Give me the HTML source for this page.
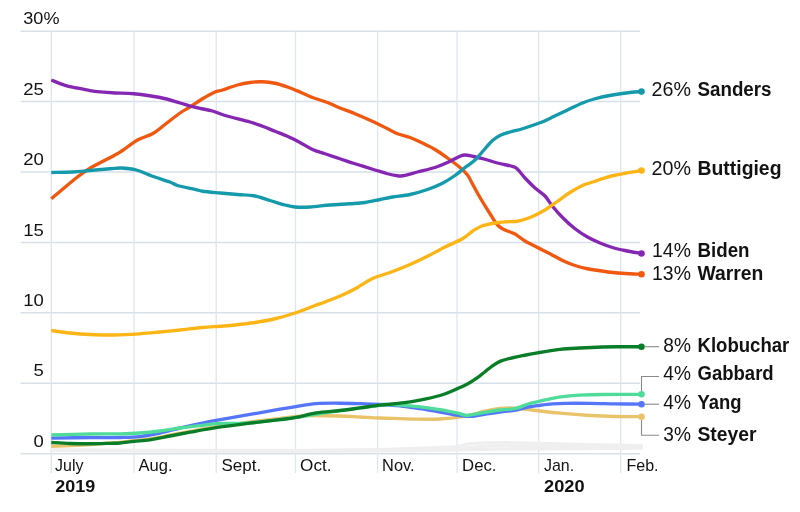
<!DOCTYPE html>
<html><head><meta charset="utf-8"><title>Poll averages</title>
<style>html,body{margin:0;padding:0;background:#fff}svg{display:block}</style></head>
<body>
<svg width="800" height="512" viewBox="0 0 800 512">
<rect width="800" height="512" fill="#fff"/>
<g stroke="#d8e1ea" stroke-width="1.45" fill="none">
<path d="M20.5,31.15H640"/>
<path d="M20.5,101.57H640"/>
<path d="M20.5,171.99H640"/>
<path d="M20.5,242.41H640"/>
<path d="M20.5,312.83H640"/>
<path d="M20.5,383.25H640"/>
<path d="M20.5,453.67H640"/>
</g>
<g stroke="#dee6ee" stroke-width="1.3" fill="none">
<path d="M51.30,31V473"/>
<path d="M134.00,31V473"/>
<path d="M216.20,31V473"/>
<path d="M295.50,31V473"/>
<path d="M377.60,31V473"/>
<path d="M457.00,31V473"/>
<path d="M538.70,31V473"/>
<path d="M620.70,31V473"/>
</g>
<g stroke="#efefef" stroke-width="3.3" fill="none" stroke-linecap="round" stroke-linejoin="round">
<path d="M51.30,450.50C92.75,450.58 241.88,450.95 300.00,451.00C358.12,451.05 371.67,451.05 400.00,450.80C428.33,450.55 450.00,449.80 470.00,449.50C490.00,449.20 501.67,449.15 520.00,449.00C538.33,448.85 559.75,448.73 580.00,448.60C600.25,448.47 631.25,448.27 641.50,448.20"/>
<path d="M51.30,450.30C66.08,450.37 98.55,450.62 140.00,450.70C181.45,450.78 260.00,450.87 300.00,450.80C340.00,450.73 353.83,450.70 380.00,450.30C406.17,449.90 441.83,448.90 457.00,448.40C472.17,447.90 464.83,447.73 471.00,447.30C477.17,446.87 485.83,445.97 494.00,445.80C502.17,445.63 505.67,446.10 520.00,446.30C534.33,446.50 559.75,446.85 580.00,447.00C600.25,447.15 631.25,447.17 641.50,447.20"/>
<path d="M51.30,449.80C59.42,449.87 75.22,450.08 100.00,450.20C124.78,450.32 166.67,450.47 200.00,450.50C233.33,450.53 270.00,450.55 300.00,450.40C330.00,450.25 356.67,450.08 380.00,449.60C403.33,449.12 427.17,448.00 440.00,447.50C452.83,447.00 451.83,447.25 457.00,446.60C462.17,445.95 464.83,444.27 471.00,443.60C477.17,442.93 485.83,442.70 494.00,442.60C502.17,442.50 509.00,442.77 520.00,443.00C531.00,443.23 546.67,443.67 560.00,444.00C573.33,444.33 586.42,444.73 600.00,445.00C613.58,445.27 634.58,445.50 641.50,445.60"/>
</g>
<path d="M51.30,446.30C54.42,446.18 63.55,445.88 70.00,445.60C76.45,445.32 84.17,444.97 90.00,444.60C95.83,444.23 100.00,443.77 105.00,443.40C110.00,443.03 115.17,442.87 120.00,442.40C124.83,441.93 129.00,441.17 134.00,440.60C139.00,440.03 144.00,439.90 150.00,439.00C156.00,438.10 163.33,436.47 170.00,435.20C176.67,433.93 182.33,432.83 190.00,431.40C197.67,429.97 206.00,428.17 216.00,426.60C226.00,425.03 239.33,423.35 250.00,422.00C260.67,420.65 272.33,419.43 280.00,418.50C287.67,417.57 290.67,416.90 296.00,416.40C301.33,415.90 304.67,415.57 312.00,415.50C319.33,415.43 332.00,415.75 340.00,416.00C348.00,416.25 353.33,416.67 360.00,417.00C366.67,417.33 373.33,417.73 380.00,418.00C386.67,418.27 393.33,418.40 400.00,418.60C406.67,418.80 413.33,419.13 420.00,419.20C426.67,419.27 434.00,419.27 440.00,419.00C446.00,418.73 451.00,418.27 456.00,417.60C461.00,416.93 465.00,416.10 470.00,415.00C475.00,413.90 481.00,412.08 486.00,411.00C491.00,409.92 496.00,409.03 500.00,408.50C504.00,407.97 506.67,407.80 510.00,407.80C513.33,407.80 515.00,407.97 520.00,408.50C525.00,409.03 533.33,410.22 540.00,411.00C546.67,411.78 551.67,412.45 560.00,413.20C568.33,413.95 580.83,414.95 590.00,415.50C599.17,416.05 606.42,416.30 615.00,416.50C623.58,416.70 637.08,416.67 641.50,416.70" stroke="#e8c36a" stroke-width="3.35" fill="none" stroke-linejoin="round"/>
<circle cx="641.50" cy="416.70" r="3.3" fill="#e8c36a"/>
<path d="M51.30,438.10C57.75,438.02 78.55,437.70 90.00,437.60C101.45,437.50 111.67,437.67 120.00,437.50C128.33,437.33 133.33,437.35 140.00,436.60C146.67,435.85 153.33,434.43 160.00,433.00C166.67,431.57 173.33,429.57 180.00,428.00C186.67,426.43 194.00,424.87 200.00,423.60C206.00,422.33 207.67,421.93 216.00,420.40C224.33,418.87 239.33,416.27 250.00,414.40C260.67,412.53 272.33,410.50 280.00,409.20C287.67,407.90 290.00,407.53 296.00,406.60C302.00,405.67 308.67,404.17 316.00,403.60C323.33,403.03 332.67,403.20 340.00,403.20C347.33,403.20 353.33,403.40 360.00,403.60C366.67,403.80 373.33,404.03 380.00,404.40C386.67,404.77 393.33,405.10 400.00,405.80C406.67,406.50 413.33,407.57 420.00,408.60C426.67,409.63 434.00,410.93 440.00,412.00C446.00,413.07 451.00,414.27 456.00,415.00C461.00,415.73 466.00,416.40 470.00,416.40C474.00,416.40 475.00,415.73 480.00,415.00C485.00,414.27 494.00,412.83 500.00,412.00C506.00,411.17 511.33,410.83 516.00,410.00C520.67,409.17 524.00,407.78 528.00,407.00C532.00,406.22 535.92,405.82 540.00,405.30C544.08,404.78 548.33,404.23 552.50,403.90C556.67,403.57 558.75,403.40 565.00,403.30C571.25,403.20 581.67,403.22 590.00,403.30C598.33,403.38 606.42,403.65 615.00,403.80C623.58,403.95 637.08,404.13 641.50,404.20" stroke="#5676f9" stroke-width="3.35" fill="none" stroke-linejoin="round"/>
<circle cx="641.50" cy="404.20" r="3.3" fill="#5676f9"/>
<path d="M51.30,435.00C57.75,434.83 78.55,434.20 90.00,434.00C101.45,433.80 111.67,433.97 120.00,433.80C128.33,433.63 133.33,433.47 140.00,433.00C146.67,432.53 153.33,431.83 160.00,431.00C166.67,430.17 173.33,428.90 180.00,428.00C186.67,427.10 194.00,426.33 200.00,425.60C206.00,424.87 209.33,423.97 216.00,423.60C222.67,423.23 232.67,423.70 240.00,423.40C247.33,423.10 250.67,422.80 260.00,421.80C269.33,420.80 282.67,419.25 296.00,417.40C309.33,415.55 325.17,412.78 340.00,410.70C354.83,408.62 375.00,405.82 385.00,404.90C395.00,403.98 394.17,404.87 400.00,405.20C405.83,405.53 413.33,406.15 420.00,406.90C426.67,407.65 433.67,408.65 440.00,409.70C446.33,410.75 453.58,412.27 458.00,413.20C462.42,414.13 462.67,415.33 466.50,415.30C470.33,415.27 475.42,413.88 481.00,413.00C486.58,412.12 494.17,410.77 500.00,410.00C505.83,409.23 511.33,409.40 516.00,408.40C520.67,407.40 524.00,405.20 528.00,404.00C532.00,402.80 535.92,402.15 540.00,401.20C544.08,400.25 548.33,399.10 552.50,398.30C556.67,397.50 560.42,396.92 565.00,396.40C569.58,395.88 573.75,395.52 580.00,395.20C586.25,394.88 592.25,394.65 602.50,394.50C612.75,394.35 635.00,394.33 641.50,394.30" stroke="#4fdc9b" stroke-width="3.35" fill="none" stroke-linejoin="round"/>
<circle cx="641.50" cy="394.30" r="3.3" fill="#4fdc9b"/>
<path d="M51.30,442.50C54.42,442.67 63.55,443.29 70.00,443.50C76.45,443.71 83.33,443.78 90.00,443.75C96.67,443.72 105.00,443.43 110.00,443.30C115.00,443.18 116.00,443.33 120.00,443.00C124.00,442.67 129.00,441.83 134.00,441.30C139.00,440.77 144.00,440.68 150.00,439.80C156.00,438.92 163.33,437.27 170.00,436.00C176.67,434.73 182.33,433.60 190.00,432.20C197.67,430.80 206.00,429.10 216.00,427.60C226.00,426.10 239.33,424.52 250.00,423.20C260.67,421.88 272.33,420.67 280.00,419.70C287.67,418.73 290.00,418.53 296.00,417.40C302.00,416.27 308.67,414.05 316.00,412.90C323.33,411.75 332.67,411.33 340.00,410.50C347.33,409.67 353.33,408.80 360.00,407.90C366.67,407.00 373.33,405.88 380.00,405.10C386.67,404.32 393.33,404.03 400.00,403.20C406.67,402.37 413.33,401.38 420.00,400.10C426.67,398.82 434.17,397.23 440.00,395.50C445.83,393.77 450.50,391.57 455.00,389.70C459.50,387.83 463.25,386.30 467.00,384.30C470.75,382.30 474.50,379.80 477.50,377.70C480.50,375.60 482.50,373.68 485.00,371.70C487.50,369.72 490.00,367.52 492.50,365.80C495.00,364.08 497.50,362.53 500.00,361.40C502.50,360.27 503.75,359.95 507.50,359.00C511.25,358.05 517.50,356.73 522.50,355.70C527.50,354.67 531.25,353.85 537.50,352.80C543.75,351.75 552.92,350.20 560.00,349.40C567.08,348.60 572.92,348.40 580.00,348.00C587.08,347.60 595.83,347.21 602.50,347.00C609.17,346.79 613.50,346.80 620.00,346.75C626.50,346.70 637.92,346.71 641.50,346.70" stroke="#0a7d28" stroke-width="3.35" fill="none" stroke-linejoin="round"/>
<circle cx="641.50" cy="346.70" r="3.3" fill="#0a7d28"/>
<path d="M51.30,198.75C53.38,196.99 59.38,191.82 63.75,188.20C68.12,184.57 73.12,180.33 77.50,177.00C81.88,173.67 83.75,171.87 90.00,168.20C96.25,164.53 109.58,157.95 115.00,155.00C120.42,152.05 118.75,153.00 122.50,150.50C126.25,148.00 132.50,142.79 137.50,140.00C142.50,137.21 147.92,136.33 152.50,133.75C157.08,131.17 160.42,127.96 165.00,124.50C169.58,121.04 175.83,115.92 180.00,113.00C184.17,110.08 186.25,109.38 190.00,107.00C193.75,104.62 198.33,101.25 202.50,98.75C206.67,96.25 211.67,93.46 215.00,92.00C218.33,90.54 218.75,91.17 222.50,90.00C226.25,88.83 232.92,86.25 237.50,85.00C242.08,83.75 245.83,83.04 250.00,82.50C254.17,81.96 258.33,81.62 262.50,81.75C266.67,81.88 270.83,82.38 275.00,83.25C279.17,84.12 283.33,85.54 287.50,87.00C291.67,88.46 295.83,90.25 300.00,92.00C304.17,93.75 307.92,95.75 312.50,97.50C317.08,99.25 322.92,100.75 327.50,102.50C332.08,104.25 335.42,106.12 340.00,108.00C344.58,109.88 349.17,111.33 355.00,113.75C360.83,116.17 369.58,120.00 375.00,122.50C380.42,125.00 383.75,126.88 387.50,128.75C391.25,130.62 393.75,132.29 397.50,133.75C401.25,135.21 405.83,135.96 410.00,137.50C414.17,139.04 418.33,141.00 422.50,143.00C426.67,145.00 430.83,147.00 435.00,149.50C439.17,152.00 443.33,155.00 447.50,158.00C451.67,161.00 456.67,164.67 460.00,167.50C463.33,170.33 465.50,172.42 467.50,175.00C469.50,177.58 469.92,179.25 472.00,183.00C474.08,186.75 477.00,192.38 480.00,197.50C483.00,202.62 487.08,209.17 490.00,213.75C492.92,218.33 495.00,222.29 497.50,225.00C500.00,227.71 502.08,228.50 505.00,230.00C507.92,231.50 511.67,232.17 515.00,234.00C518.33,235.83 521.25,238.75 525.00,241.00C528.75,243.25 533.33,245.38 537.50,247.50C541.67,249.62 545.83,251.58 550.00,253.75C554.17,255.92 558.33,258.54 562.50,260.50C566.67,262.46 570.83,264.12 575.00,265.50C579.17,266.88 583.33,267.88 587.50,268.75C591.67,269.62 595.83,270.12 600.00,270.75C604.17,271.38 608.33,272.04 612.50,272.50C616.67,272.96 620.17,273.22 625.00,273.50C629.83,273.78 638.75,274.08 641.50,274.20" stroke="#f0570f" stroke-width="3.35" fill="none" stroke-linejoin="round"/>
<circle cx="641.50" cy="274.20" r="3.3" fill="#f0570f"/>
<path d="M51.30,80.00C53.58,80.88 60.72,83.97 65.00,85.30C69.28,86.63 72.83,87.12 77.00,88.00C81.17,88.88 86.17,89.95 90.00,90.60C93.83,91.25 95.83,91.50 100.00,91.90C104.17,92.30 109.38,92.69 115.00,93.00C120.62,93.31 126.25,93.00 133.75,93.75C141.25,94.50 152.29,95.96 160.00,97.50C167.71,99.04 175.00,101.58 180.00,103.00C185.00,104.42 186.67,105.10 190.00,106.00C193.33,106.90 196.25,107.57 200.00,108.40C203.75,109.23 208.33,109.82 212.50,111.00C216.67,112.18 218.75,113.67 225.00,115.50C231.25,117.33 243.75,120.21 250.00,122.00C256.25,123.79 258.33,124.71 262.50,126.25C266.67,127.79 270.83,129.58 275.00,131.25C279.17,132.92 283.33,134.38 287.50,136.25C291.67,138.12 295.83,140.29 300.00,142.50C304.17,144.71 308.33,147.62 312.50,149.50C316.67,151.38 320.42,152.21 325.00,153.75C329.58,155.29 335.00,157.08 340.00,158.75C345.00,160.42 349.17,161.88 355.00,163.75C360.83,165.62 369.58,168.33 375.00,170.00C380.42,171.67 383.75,172.79 387.50,173.75C391.25,174.71 395.00,175.42 397.50,175.75C400.00,176.08 399.17,176.38 402.50,175.75C405.83,175.12 412.08,173.38 417.50,172.00C422.92,170.62 430.00,169.08 435.00,167.50C440.00,165.92 443.33,164.38 447.50,162.50C451.67,160.62 457.08,157.50 460.00,156.25C462.92,155.00 462.92,155.00 465.00,155.00C467.08,155.00 469.17,155.54 472.50,156.25C475.83,156.96 480.83,158.12 485.00,159.25C489.17,160.38 493.17,161.88 497.50,163.00C501.83,164.12 507.92,165.20 511.00,166.00C514.08,166.80 514.50,166.80 516.00,167.80C517.50,168.80 518.50,170.30 520.00,172.00C521.50,173.70 522.50,175.33 525.00,178.00C527.50,180.67 531.67,185.00 535.00,188.00C538.33,191.00 542.08,192.96 545.00,196.00C547.92,199.04 549.58,202.67 552.50,206.25C555.42,209.83 558.75,213.75 562.50,217.50C566.25,221.25 570.83,225.50 575.00,228.75C579.17,232.00 583.33,234.62 587.50,237.00C591.67,239.38 595.83,241.25 600.00,243.00C604.17,244.75 608.33,246.25 612.50,247.50C616.67,248.75 620.17,249.50 625.00,250.50C629.83,251.50 638.75,253.00 641.50,253.50" stroke="#8627b3" stroke-width="3.35" fill="none" stroke-linejoin="round"/>
<circle cx="641.50" cy="253.50" r="3.3" fill="#8627b3"/>
<path d="M51.30,330.50C54.42,330.92 63.55,332.33 70.00,333.00C76.45,333.67 82.50,334.17 90.00,334.50C97.50,334.83 106.67,335.12 115.00,335.00C123.33,334.88 132.50,334.25 140.00,333.75C147.50,333.25 153.33,332.62 160.00,332.00C166.67,331.38 172.92,330.75 180.00,330.00C187.08,329.25 195.83,328.12 202.50,327.50C209.17,326.88 214.58,326.67 220.00,326.25C225.42,325.83 229.17,325.62 235.00,325.00C240.83,324.38 248.33,323.54 255.00,322.50C261.67,321.46 268.33,320.33 275.00,318.75C281.67,317.17 288.33,315.21 295.00,313.00C301.67,310.79 310.00,307.33 315.00,305.50C320.00,303.67 320.42,303.75 325.00,302.00C329.58,300.25 337.08,297.42 342.50,295.00C347.92,292.58 352.50,290.25 357.50,287.50C362.50,284.75 367.08,281.00 372.50,278.50C377.92,276.00 383.75,274.83 390.00,272.50C396.25,270.17 403.75,267.21 410.00,264.50C416.25,261.79 421.67,259.17 427.50,256.25C433.33,253.33 439.17,249.92 445.00,247.00C450.83,244.08 457.92,241.38 462.50,238.75C467.08,236.12 469.38,233.33 472.50,231.25C475.62,229.17 477.50,227.62 481.25,226.25C485.00,224.88 490.62,223.75 495.00,223.00C499.38,222.25 503.75,222.04 507.50,221.75C511.25,221.46 513.75,221.96 517.50,221.25C521.25,220.54 525.42,219.38 530.00,217.50C534.58,215.62 540.42,212.71 545.00,210.00C549.58,207.29 553.33,204.17 557.50,201.25C561.67,198.33 565.83,195.12 570.00,192.50C574.17,189.88 578.33,187.38 582.50,185.50C586.67,183.62 592.08,182.25 595.00,181.25C597.92,180.25 597.08,180.42 600.00,179.50C602.92,178.58 608.33,176.79 612.50,175.75C616.67,174.71 620.17,174.12 625.00,173.25C629.83,172.38 638.75,170.96 641.50,170.50" stroke="#fdb515" stroke-width="3.35" fill="none" stroke-linejoin="round"/>
<circle cx="641.50" cy="170.50" r="3.3" fill="#fdb515"/>
<path d="M51.30,172.50C54.83,172.42 66.05,172.33 72.50,172.00C78.95,171.67 83.75,171.04 90.00,170.50C96.25,169.96 104.79,169.17 110.00,168.75C115.21,168.33 116.88,167.79 121.25,168.00C125.62,168.21 131.04,168.62 136.25,170.00C141.46,171.38 146.88,174.25 152.50,176.25C158.12,178.25 165.83,180.46 170.00,182.00C174.17,183.54 173.33,184.28 177.50,185.50C181.67,186.72 190.83,188.34 195.00,189.30C199.17,190.26 198.33,190.63 202.50,191.25C206.67,191.87 214.17,192.46 220.00,193.00C225.83,193.54 231.88,194.04 237.50,194.50C243.12,194.96 248.33,194.75 253.75,195.75C259.17,196.75 264.79,198.96 270.00,200.50C275.21,202.04 280.83,203.92 285.00,205.00C289.17,206.08 290.83,206.67 295.00,207.00C299.17,207.33 304.17,207.33 310.00,207.00C315.83,206.67 323.33,205.54 330.00,205.00C336.67,204.46 344.17,204.17 350.00,203.75C355.83,203.33 360.00,203.21 365.00,202.50C370.00,201.79 375.42,200.42 380.00,199.50C384.58,198.58 387.50,197.83 392.50,197.00C397.50,196.17 404.17,195.75 410.00,194.50C415.83,193.25 422.08,191.38 427.50,189.50C432.92,187.62 437.92,185.58 442.50,183.25C447.08,180.92 451.25,178.12 455.00,175.50C458.75,172.88 461.67,170.08 465.00,167.50C468.33,164.92 471.67,163.12 475.00,160.00C478.33,156.88 482.08,152.00 485.00,148.75C487.92,145.50 490.00,142.71 492.50,140.50C495.00,138.29 497.08,136.92 500.00,135.50C502.92,134.08 506.25,133.12 510.00,132.00C513.75,130.88 517.50,130.28 522.50,128.75C527.50,127.22 535.42,124.52 540.00,122.80C544.58,121.08 545.42,120.53 550.00,118.40C554.58,116.27 562.08,112.57 567.50,110.00C572.92,107.43 577.92,104.88 582.50,103.00C587.08,101.12 590.00,100.08 595.00,98.75C600.00,97.42 606.67,96.04 612.50,95.00C618.33,93.96 625.17,93.07 630.00,92.50C634.83,91.93 639.58,91.75 641.50,91.60" stroke="#149aaa" stroke-width="3.35" fill="none" stroke-linejoin="round"/>
<circle cx="641.50" cy="91.60" r="3.3" fill="#149aaa"/>
<g stroke="#8a8a8a" stroke-width="1.1" fill="none">
<path d="M645,346.7H659"/>
<path d="M641.5,391V376.5H659"/>
<path d="M645,404.2H659"/>
<path d="M641.5,420V435.3H659"/>
</g>
<g font-family="Liberation Sans, Arial, sans-serif" fill="#121212">
<text x="23.3" y="24.3" font-size="15.7" textLength="36.2" lengthAdjust="spacingAndGlyphs">30%</text>
<text x="23.3" y="94.8" font-size="15.7" textLength="20.6" lengthAdjust="spacingAndGlyphs">25</text>
<text x="23.3" y="165.2" font-size="15.7" textLength="20.6" lengthAdjust="spacingAndGlyphs">20</text>
<text x="23.3" y="235.6" font-size="15.7" textLength="20.6" lengthAdjust="spacingAndGlyphs">15</text>
<text x="23.3" y="306.0" font-size="15.7" textLength="20.6" lengthAdjust="spacingAndGlyphs">10</text>
<text x="33.6" y="376.4" font-size="15.7" textLength="10.3" lengthAdjust="spacingAndGlyphs">5</text>
<text x="33.6" y="446.9" font-size="15.7" textLength="10.3" lengthAdjust="spacingAndGlyphs">0</text>
<text x="55.1" y="471.4" font-size="15.7" textLength="28.4" lengthAdjust="spacingAndGlyphs">July</text>
<text x="138.5" y="471.4" font-size="15.7" textLength="34.0" lengthAdjust="spacingAndGlyphs">Aug.</text>
<text x="221.5" y="471.4" font-size="15.7" textLength="39.6" lengthAdjust="spacingAndGlyphs">Sept.</text>
<text x="300.1" y="471.4" font-size="15.7" textLength="31.4" lengthAdjust="spacingAndGlyphs">Oct.</text>
<text x="382.1" y="471.4" font-size="15.7" textLength="32.4" lengthAdjust="spacingAndGlyphs">Nov.</text>
<text x="462.1" y="471.4" font-size="15.7" textLength="34.4" lengthAdjust="spacingAndGlyphs">Dec.</text>
<text x="543.9" y="471.4" font-size="15.7" textLength="30.2" lengthAdjust="spacingAndGlyphs">Jan.</text>
<text x="626.5" y="471.4" font-size="15.7" textLength="32.0" lengthAdjust="spacingAndGlyphs">Feb.</text>
<text x="55.2" y="492.0" font-size="16.3" textLength="40.0" lengthAdjust="spacingAndGlyphs" font-weight="bold">2019</text>
<text x="544.0" y="492.0" font-size="16.3" textLength="40.6" lengthAdjust="spacingAndGlyphs" font-weight="bold">2020</text>
</g>
<g font-family="Liberation Sans, Arial, sans-serif" fill="#121212" font-size="19.5">
<text x="651.5" y="96.0" textLength="39.4" lengthAdjust="spacingAndGlyphs">26%</text>
<text x="697.5" y="96.0" font-weight="bold" textLength="74.0" lengthAdjust="spacingAndGlyphs">Sanders</text>
<text x="651.5" y="175.0" textLength="39.4" lengthAdjust="spacingAndGlyphs">20%</text>
<text x="697.5" y="175.0" font-weight="bold" textLength="84.0" lengthAdjust="spacingAndGlyphs">Buttigieg</text>
<text x="652.1" y="256.8" textLength="38.8" lengthAdjust="spacingAndGlyphs">14%</text>
<text x="697.5" y="256.8" font-weight="bold" textLength="52.0" lengthAdjust="spacingAndGlyphs">Biden</text>
<text x="652.1" y="279.6" textLength="38.8" lengthAdjust="spacingAndGlyphs">13%</text>
<text x="697.5" y="279.6" font-weight="bold" textLength="65.8" lengthAdjust="spacingAndGlyphs">Warren</text>
<text x="663.3" y="352.3" textLength="27.6" lengthAdjust="spacingAndGlyphs">8%</text>
<text x="697.5" y="352.3" font-weight="bold" textLength="91.8" lengthAdjust="spacingAndGlyphs">Klobuchar</text>
<text x="663.3" y="380.3" textLength="27.6" lengthAdjust="spacingAndGlyphs">4%</text>
<text x="697.5" y="380.3" font-weight="bold" textLength="76.2" lengthAdjust="spacingAndGlyphs">Gabbard</text>
<text x="663.3" y="409.4" textLength="27.6" lengthAdjust="spacingAndGlyphs">4%</text>
<text x="697.5" y="409.4" font-weight="bold" textLength="44.0" lengthAdjust="spacingAndGlyphs">Yang</text>
<text x="663.3" y="441.0" textLength="27.6" lengthAdjust="spacingAndGlyphs">3%</text>
<text x="697.5" y="441.0" font-weight="bold" textLength="59.0" lengthAdjust="spacingAndGlyphs">Steyer</text>
</g>
</svg>
</body></html>
